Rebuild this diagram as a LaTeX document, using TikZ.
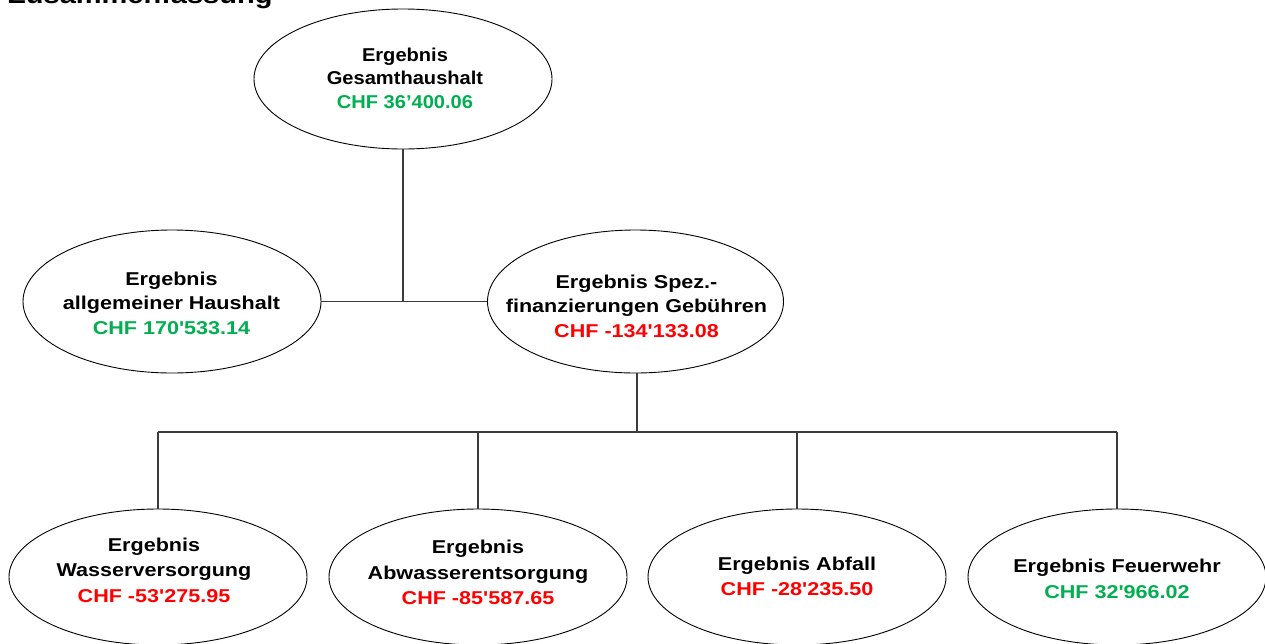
\documentclass[tikz,border=0pt]{standalone}
\usepackage{fontspec}
\setmainfont{Liberation Sans}
\newfontfamily\labfont[FakeStretch=1.16]{Liberation Sans}
\newfontfamily\topfont[FakeStretch=1.08]{Liberation Sans}
\usetikzlibrary{shapes.geometric}
\definecolor{pos}{RGB}{0,176,80}
\definecolor{neg}{RGB}{255,0,0}
\definecolor{conn}{RGB}{60,60,60}
\begin{document}
\begin{tikzpicture}[x=1pt,y=-1pt,
  ell/.style={ellipse,draw=black,line width=0.9pt,fill=white,minimum width=298pt,minimum height=140pt,inner sep=0pt},
  bell/.style={ell,minimum height=136pt},
  lab/.style={align=center,inner sep=0pt,font=\labfont\bfseries\fontsize{18.6}{24.5}\selectfont},
  blab/.style={align=center,inner sep=0pt,font=\labfont\bfseries\fontsize{18.6}{25.5}\selectfont},
  tlab/.style={align=center,inner sep=0pt,font=\topfont\bfseries\fontsize{18.6}{23.5}\selectfont},
  link/.style={draw=conn,line width=1.1pt}]
\useasboundingbox (0,0) rectangle (1265,643);
% title (partly cut off at the top)
\node[anchor=base west,inner sep=0pt,font=\labfont\bfseries\fontsize{25}{30}\selectfont] (title) at (8,3) {Zusammenfassung};
% ellipses
\node[ell] (top) at (403,79) {};
\node[ell,minimum height=143pt] (l) at (172,301.5) {};
\node[ell,minimum height=143pt,minimum width=296pt] (m) at (635.5,301.5) {};
\node[bell] (w) at (158,577) {};
\node[bell] (a) at (478,577) {};
\node[bell] (f) at (797,577) {};
\node[bell] (fw) at (1117,577) {};
% connectors
\coordinate (j1) at (top.south |- l.east);
\coordinate (j2) at (637,432);
\draw[link] (top.south) -- (j1);
\draw[link] (l.east) -- (m.west);
\draw[link] (m.south -| j2) -- (j2);
\draw[link] (w.north |- j2) -- (fw.north |- j2);
\draw[link] (w.north |- j2) -- (w.north);
\draw[link] (a.north |- j2) -- (a.north);
\draw[link] (f.north |- j2) -- (f.north);
\draw[link] (fw.north |- j2) -- (fw.north);
% labels
\node[tlab] (topt) at (405,78) {Ergebnis\\Gesamthaushalt\\\textcolor{pos}{CHF 36’400.06}};
\node[lab] (lt) at (171.5,303) {Ergebnis\\allgemeiner Haushalt\\\textcolor{pos}{CHF 170'533.14}};
\node[lab] (mt) at (636.5,306) {Ergebnis Spez.-\\finanzierungen Gebühren\\\textcolor{neg}{CHF -134'133.08}};
\node[blab] (wt) at (154,570) {Ergebnis\\Wasserversorgung\\\textcolor{neg}{CHF -53'275.95}};
\node[blab] (at) at (478,572.5) {Ergebnis\\Abwasserentsorgung\\\textcolor{neg}{CHF -85'587.65}};
\node[blab] (ft) at (797,576.5) {Ergebnis Abfall\\\textcolor{neg}{CHF -28'235.50}};
\node[blab] (fwt) at (1117,579) {Ergebnis Feuerwehr\\\textcolor{pos}{CHF 32'966.02}};
\end{tikzpicture}
\end{document}
